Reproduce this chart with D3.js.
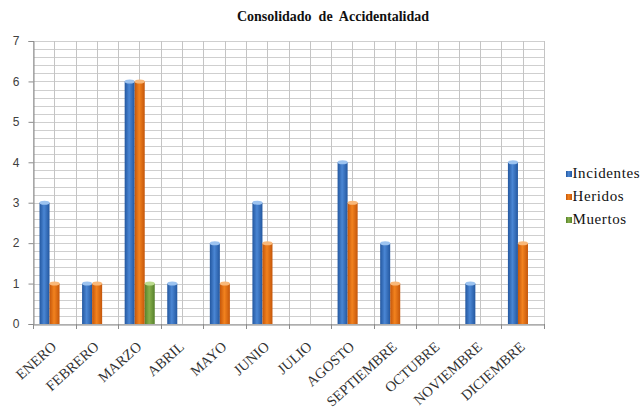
<!DOCTYPE html>
<html>
<head>
<meta charset="utf-8">
<script src="https://cdn.jsdelivr.net/npm/d3@7"></script>
<style>
  body { margin: 0; background: #fff; }
  svg { display: block; }
</style>
</head>
<body>
<svg id="chart" width="642" height="411"></svg>
<script>
var meses = ["ENERO", "FEBRERO", "MARZO", "ABRIL", "MAYO", "JUNIO", "JULIO",
             "AGOSTO", "SEPTIEMBRE", "OCTUBRE", "NOVIEMBRE", "DICIEMBRE"];
var series = ["Incidentes", "Heridos", "Muertos"];
var incidentes = [3, 1, 6, 1, 2, 3, 0, 4, 2, 0, 1, 4];
var heridos    = [1, 1, 6, 0, 1, 2, 0, 3, 1, 0, 0, 2];
var muertos    = [0, 0, 1, 0, 0, 0, 0, 0, 0, 0, 0, 0];
var yTicks = [0, 1, 2, 3, 4, 5, 6, 7];

var valores = [incidentes, heridos, muertos];
var colores = {
    Incidentes: {dark: "#23579f", mid: "#4a86d4", top: "#9cc3f0"},
    Heridos:    {dark: "#c4560a", mid: "#f2821e", top: "#f9b879"},
    Muertos:    {dark: "#56802b", mid: "#86b04a", top: "#bcdc8e"}
};

var svg = d3.select("#chart");
var plotLeft = 33, plotRight = 544, plotTop = 41, plotBottom = 324;
var serif = "'Liberation Serif', 'Times New Roman', Times, serif";

var x = d3.scaleBand().domain(meses).range([plotLeft, plotRight]);
var x1 = d3.scaleBand().domain(series).range([6.5, x.bandwidth() - 6]);
var y = d3.scaleLinear().domain([0, 7]).range([plotBottom, plotTop]);

// gradients for cylinder look
var defs = svg.append("defs");
series.forEach(function(s, i) {
    var g = defs.append("linearGradient").attr("id", "g" + i)
        .attr("x1", "0%").attr("x2", "100%").attr("y1", "0%").attr("y2", "0%");
    g.append("stop").attr("offset", "0%").attr("stop-color", colores[s].dark);
    g.append("stop").attr("offset", "45%").attr("stop-color", colores[s].mid);
    g.append("stop").attr("offset", "100%").attr("stop-color", colores[s].dark);
});

// title
svg.append("text")
    .attr("x", 333).attr("y", 21)
    .attr("text-anchor", "middle")
    .style("font-family", serif)
    .style("font-weight", "bold")
    .style("font-size", "14px")
    .style("white-space", "pre")
    .attr("fill", "#111")
    .text("Consolidado  de  Accidentalidad");

// horizontal gridlines (minor every 0.2)
var hLines = d3.range(0, 7.01, 0.2);
svg.append("g").selectAll("line")
    .data(hLines)
    .enter().append("line")
    .attr("x1", plotLeft).attr("x2", plotRight)
    .attr("y1", function(d) { return Math.round(y(d)) + 0.5; })
    .attr("y2", function(d) { return Math.round(y(d)) + 0.5; })
    .attr("stroke", "#cfcfcf").attr("stroke-width", 1);

// vertical gridlines at boundaries and centers
var vLines = [];
meses.forEach(function(m) {
    vLines.push(x(m));
    vLines.push(x(m) + x.bandwidth() / 2);
});
vLines.push(plotRight);
svg.append("g").selectAll("line")
    .data(vLines)
    .enter().append("line")
    .attr("x1", function(d) { return Math.round(d) + 0.5; })
    .attr("x2", function(d) { return Math.round(d) + 0.5; })
    .attr("y1", plotTop).attr("y2", plotBottom)
    .attr("stroke", "#c4c4c4").attr("stroke-width", 1);

// y axis
var yAxis = d3.axisLeft(y).tickValues(yTicks).tickSize(5).tickPadding(9).tickFormat(d3.format("d"));
var gy = svg.append("g")
    .attr("transform", "translate(" + (plotLeft + 0.5) + ",0)")
    .call(yAxis);
gy.select(".domain").attr("stroke", "#8c8c8c");
gy.selectAll(".tick line").attr("stroke", "#8c8c8c");
gy.selectAll(".tick text")
    .style("font-family", "'Liberation Sans', Arial, sans-serif")
    .style("font-size", "12px")
    .attr("fill", "#404040");

// x axis
var xAxis = d3.axisBottom(x).tickSize(0).tickFormat("");
var gx = svg.append("g")
    .attr("transform", "translate(0," + (plotBottom + 0.5) + ")")
    .call(xAxis);
gx.select(".domain").attr("stroke", "#8c8c8c");
gx.selectAll(".tick").remove();

var bounds = meses.map(function(m) { return x(m); }).concat([plotRight]);
svg.append("g").selectAll("line")
    .data(bounds)
    .enter().append("line")
    .attr("x1", function(d) { return Math.round(d) + 0.5; })
    .attr("x2", function(d) { return Math.round(d) + 0.5; })
    .attr("y1", plotBottom).attr("y2", plotBottom + 5)
    .attr("stroke", "#8c8c8c");

svg.append("g").selectAll("text")
    .data(meses)
    .enter().append("text")
    .attr("transform", function(d) {
        return "translate(" + (x(d) + x.bandwidth() / 2 + 3) + "," + (plotBottom + 24) + ") rotate(-42)";
    })
    .attr("text-anchor", "end")
    .style("font-family", serif)
    .style("font-size", "14.5px")
    .attr("fill", "#333")
    .text(function(d) { return d; });

// bars
series.forEach(function(s, si) {
    var g = svg.append("g");
    var data = meses.map(function(m, i) { return {mes: m, v: valores[si][i]}; })
        .filter(function(d) { return d.v > 0; });
    var w = x1.bandwidth();
    g.selectAll("rect")
        .data(data)
        .enter().append("rect")
        .attr("x", function(d) { return x(d.mes) + x1(s); })
        .attr("y", function(d) { return y(d.v); })
        .attr("width", w)
        .attr("height", function(d) { return y(0) - y(d.v); })
        .attr("fill", "url(#g" + si + ")");
    g.selectAll("ellipse")
        .data(data)
        .enter().append("ellipse")
        .attr("cx", function(d) { return x(d.mes) + x1(s) + w / 2; })
        .attr("cy", function(d) { return y(d.v); })
        .attr("rx", w / 2)
        .attr("ry", 2)
        .attr("fill", colores[s].top);
});

// legend
var legend = svg.append("g").selectAll("g")
    .data(series)
    .enter().append("g")
    .attr("transform", function(d, i) { return "translate(566," + (178 + i * 23) + ")"; });
legend.append("rect")
    .attr("x", 0).attr("y", -7)
    .attr("width", 6).attr("height", 6)
    .attr("fill", function(d, i) { return "url(#g" + i + ")"; });
legend.append("text")
    .attr("x", 6.5).attr("y", 0)
    .style("font-family", serif)
    .style("font-size", "15px")
    .style("letter-spacing", "0.6px")
    .attr("fill", "#111")
    .text(function(d) { return d; });
</script>
</body>
</html>
